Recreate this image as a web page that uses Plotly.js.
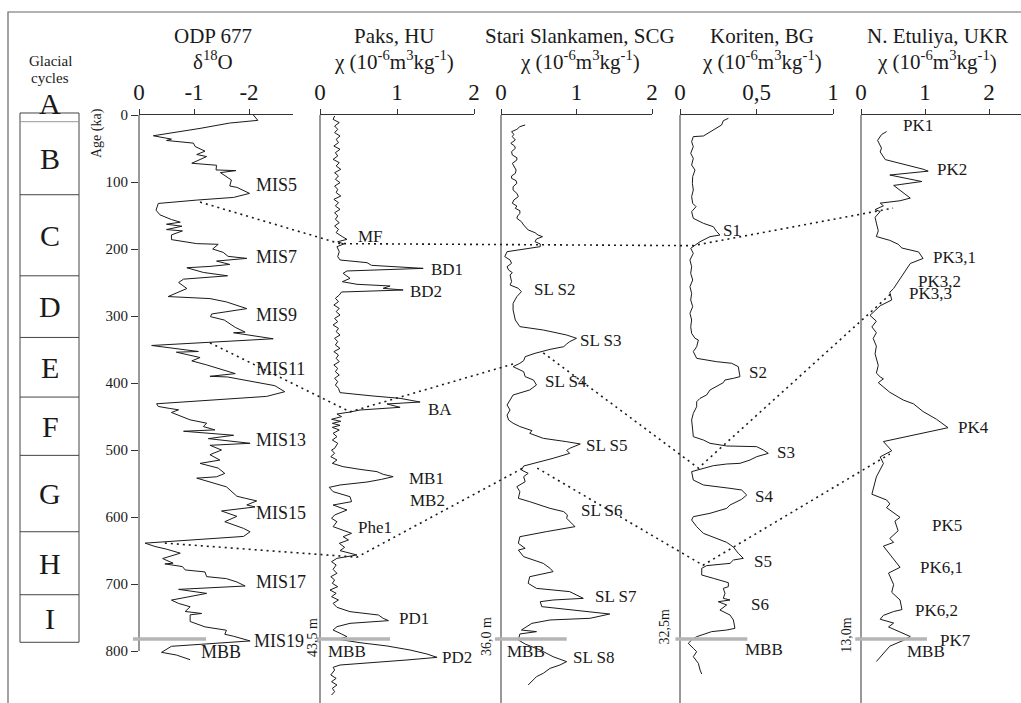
<!DOCTYPE html>
<html><head><meta charset="utf-8">
<script src="https://cdn.plot.ly/plotly-3.0.1.min.js"></script>
<style>html,body{margin:0;padding:0;background:#fff}#chart{width:1021px;height:703px}</style>
</head><body><div id="chart"></div>
<script>
// ---------------- DATA ----------------
// ODP 677 delta18O (per mil) vs age (ka)
const odpAge = [0,8,12,20,31,36,38,42,47,54,59,62,72,75,82,83,86,92,97,106,108,117,123,127,132,142,149,156,160,163,166,171,173,179,186,192,193,200,205,211,214,218,223,226,228,235,240,245,250,259,271,274,279,289,297,301,306,317,324,325,334,344,353,354,362,367,373,386,390,391,400,404,413,420,431,435,438,440,444,455,460,465,470,472,478,483,490,493,500,507,515,520,527,535,540,542,555,569,572,576,582,585,591,599,607,617,622,629,639,644,648,654,662,669,670,674,679,682,689,692,697,703,708,714,724,729,734,741,744,746,756,764,769,775,778,785,793,802,806,813];
const odpD18O = [-2.08,-2.16,-1.65,-1.11,-0.26,-0.59,-0.50,-0.99,-1.02,-1.20,-1.05,-1.23,-0.96,-1.41,-1.40,-1.76,-1.48,-1.58,-1.68,-1.65,-1.78,-2.01,-1.72,-1.05,-0.35,-0.31,-0.38,-0.59,-0.75,-0.50,-0.78,-0.50,-0.79,-0.59,-0.59,-1.05,-1.44,-1.34,-1.53,-1.62,-1.96,-1.41,-1.65,-1.29,-0.87,-1.17,-1.61,-0.81,-0.72,-0.87,-0.53,-1.29,-1.59,-1.96,-1.32,-1.30,-1.55,-1.75,-1.93,-1.72,-2.44,-0.23,-1.08,-0.68,-1.11,-0.96,-1.23,-1.75,-1.29,-1.61,-2.26,-2.47,-2.65,-2.32,-0.32,-0.35,-0.56,-0.72,-0.59,-0.93,-1.23,-1.17,-1.38,-0.81,-1.72,-1.26,-2.02,-1.29,-1.50,-1.29,-1.47,-1.11,-1.44,-1.56,-1.41,-1.05,-1.59,-1.78,-1.93,-2.14,-1.96,-2.11,-1.50,-1.78,-1.56,-1.90,-2.02,-1.90,-0.11,-0.29,-0.50,-0.75,-0.43,-0.62,-0.47,-0.79,-0.84,-1.20,-1.23,-1.59,-1.78,-1.93,-0.72,-1.23,-0.59,-0.72,-0.93,-0.84,-1.14,-0.93,-0.93,-1.20,-1.59,-1.56,-1.72,-2.02,-0.59,-0.41,-0.68,-0.93];

// Paks, HU  chi (1e-6 m3/kg)
const paksAge = [1.5,6.5,11.4,16.4,21.4,26.4,31.3,36.3,41.3,46.3,51.2,56.2,61.2,66.2,71.1,76.1,81.1,86.1,91.0,96.0,101.0,106.0,111.0,115.9,120.9,125.9,130.8,135.8,140.8,145.8,150.7,155.7,160.7,165.7,170.6,175.6,181.6,185.6,189.1,192.5,196.5,204.0,211.4,216.4,220.4,224.4,228.9,232.8,236.3,243.8,248.8,252.7,255.2,258.7,261.2,264.2,268.7,273.6,278.6,283.6,288.6,293.5,298.5,303.5,308.5,313.4,318.4,323.4,328.4,333.3,338.3,343.3,348.3,353.2,358.2,363.2,368.2,373.1,378.1,383.1,388.1,393.0,398.0,403.0,408.0,414.4,419.4,422.9,428.4,431.3,436.3,440.3,443.3,446.3,450.2,454.2,457.2,460.2,463.2,466.2,470.1,475.1,480.1,485.1,490.0,497.5,500.0,505.0,510.0,514.9,519.9,524.9,528.9,532.3,536.3,539.8,543.8,547.8,552.2,555.7,562.2,569.7,577.1,582.1,589.6,597.0,602.0,607.0,614.4,619.4,624.4,629.4,634.3,639.3,645.3,650.2,656.7,661.7,666.7,671.6,678.1,684.1,689.1,694.0,699.0,704.0,709.0,713.9,718.9,723.9,728.9,734.8,741.3,746.3,751.2,754.7,758.7,763.7,768.7,774.6,778.6,782.6,787.6,792.5,798.5,804.5,809.5,813.4,817.4,820.9,824.4,828.4,835.8,840.8,845.8,850.7,855.7,860.7,865.7];
const paksChi = [0.19,0.17,0.25,0.19,0.23,0.19,0.26,0.21,0.24,0.18,0.26,0.20,0.23,0.17,0.25,0.21,0.27,0.19,0.24,0.20,0.26,0.19,0.23,0.21,0.27,0.18,0.24,0.20,0.26,0.19,0.23,0.20,0.25,0.19,0.24,0.21,0.29,0.35,0.23,0.31,0.22,0.25,0.23,0.26,0.61,0.67,1.34,0.35,0.30,0.39,0.29,0.48,0.91,0.82,1.08,0.28,0.25,0.20,0.24,0.18,0.25,0.21,0.26,0.19,0.23,0.17,0.24,0.21,0.26,0.19,0.23,0.20,0.26,0.18,0.24,0.21,0.25,0.18,0.23,0.20,0.25,0.19,0.23,0.20,0.24,0.26,0.69,1.04,1.30,0.87,1.04,0.52,0.39,0.22,0.28,0.15,0.27,0.16,0.26,0.16,0.25,0.17,0.22,0.16,0.23,0.19,0.15,0.19,0.14,0.22,0.16,0.30,0.52,0.74,0.82,0.95,0.80,0.61,0.26,0.12,0.17,0.39,0.41,0.17,0.35,0.19,0.15,0.22,0.17,0.28,0.41,0.30,0.37,0.25,0.32,0.26,0.48,0.22,0.15,0.21,0.17,0.22,0.14,0.19,0.16,0.23,0.13,0.21,0.15,0.24,0.17,0.22,0.39,0.76,0.82,0.89,0.39,0.22,0.17,0.28,0.35,0.24,0.52,0.87,1.17,1.39,1.52,1.13,0.61,0.26,0.17,0.19,0.14,0.21,0.15,0.22,0.16,0.19,0.15];

// Stari Slankamen, SCG
const stariAge = [14.9,17.4,21.4,24.9,28.9,32.3,37.3,42.3,46.3,49.8,54.7,59.7,63.7,67.2,72.1,77.1,82.1,87.1,91.0,94.5,98.0,102.0,107.0,111.9,116.9,121.9,126.9,131.8,135.8,139.3,142.8,146.8,150.7,154.2,159.2,164.2,167.7,171.6,175.6,179.1,181.6,185.1,189.1,192.5,196.5,200.5,204.0,211.4,216.4,221.4,226.4,231.3,235.3,238.8,243.8,248.8,253.7,258.7,263.7,271.1,281.1,291.0,306.0,315.9,320.9,328.4,333.3,338.3,341.8,345.8,349.8,355.7,360.7,366.7,370.6,375.6,383.1,390.5,395.5,403.0,410.4,415.4,417.9,425.4,432.8,440.3,447.8,455.2,460.0,465.0,467.7,471.1,475.1,482.6,487.6,491.0,497.5,500.5,505.0,512.4,523.9,529.9,534.8,539.8,547.3,554.7,562.2,572.1,577.1,587.1,592.0,597.0,602.0,607.0,614.4,621.9,629.4,639.3,646.8,649.3,659.2,669.2,676.6,681.6,685.1,689.1,699.0,706.5,711.4,721.4,723.9,726.4,733.8,741.3,744.8,751.2,753.7,758.7,768.7,771.1,774.6,783.6,789.6,798.5,808.5,815.9,820.9,825.9,833.3,838.3,845.8,850.7];
const stariChi = [0.32,0.25,0.21,0.14,0.17,0.15,0.19,0.13,0.18,0.19,0.14,0.15,0.21,0.21,0.15,0.17,0.20,0.19,0.14,0.14,0.20,0.21,0.16,0.16,0.21,0.23,0.17,0.15,0.21,0.19,0.25,0.25,0.22,0.21,0.27,0.30,0.33,0.36,0.45,0.49,0.55,0.47,0.45,0.52,0.52,0.25,0.08,0.05,0.12,0.14,0.08,0.10,0.15,0.12,0.13,0.14,0.12,0.23,0.27,0.21,0.16,0.16,0.19,0.25,0.56,0.87,1.00,0.91,0.87,0.83,0.65,0.45,0.32,0.30,0.25,0.16,0.30,0.32,0.43,0.47,0.38,0.25,0.16,0.12,0.08,0.12,0.08,0.10,0.16,0.25,0.32,0.41,0.38,0.56,0.87,1.05,0.91,0.87,0.91,0.69,0.30,0.27,0.36,0.30,0.32,0.21,0.25,0.23,0.38,0.65,0.83,0.88,0.87,0.91,0.98,0.60,0.25,0.23,0.32,0.23,0.30,0.56,0.65,0.69,0.52,0.38,0.36,0.47,0.91,1.09,0.69,0.52,0.54,1.13,1.44,1.18,0.65,0.41,0.27,0.47,0.25,0.23,0.32,0.52,0.69,0.87,0.78,0.65,0.56,0.47,0.41,0.36];

// Koriten, BG
const koritenAge = [5.0,8.5,14.9,22.4,27.4,31.3,32.3,39.8,47.3,57.2,64.7,74.6,82.1,92.0,102.0,111.9,121.9,131.8,136.8,144.3,154.2,161.7,166.7,174.1,179.1,181.6,189.1,194.0,199.0,206.5,216.4,226.4,236.3,246.3,256.2,266.2,276.1,286.1,296.0,306.0,315.9,325.9,333.3,335.8,345.8,353.2,363.2,368.2,370.6,375.6,390.5,393.0,395.5,399.5,402.0,405.5,410.4,417.9,422.9,427.9,435.3,445.3,455.2,470.1,480.1,485.1,490.0,494.0,495.0,500.0,505.0,510.0,514.9,519.9,520.9,523.4,528.4,532.3,544.8,552.2,557.2,559.7,567.2,573.6,582.1,587.1,594.5,599.5,604.5,614.4,624.4,637.8,644.8,654.2,661.7,664.2,669.2,672.6,676.6,686.6,691.5,698.0,704.0,706.5,714.0,721.4,723.9,726.4,731.3,738.8,746.3,753.7,766.2,768.7,771.1,773.6,778.6,783.6,788.6,796.0,801.0,808.5,818.4,828.4,834.3];
const koritenChi = [0.316,0.283,0.272,0.218,0.174,0.153,0.087,0.076,0.087,0.070,0.087,0.076,0.098,0.083,0.081,0.087,0.076,0.083,0.105,0.076,0.087,0.153,0.218,0.240,0.261,0.196,0.131,0.098,0.070,0.087,0.065,0.076,0.070,0.083,0.065,0.076,0.070,0.083,0.065,0.076,0.070,0.076,0.098,0.120,0.109,0.087,0.109,0.240,0.338,0.381,0.392,0.349,0.294,0.283,0.261,0.240,0.196,0.174,0.131,0.109,0.109,0.087,0.076,0.083,0.087,0.153,0.196,0.305,0.501,0.545,0.577,0.501,0.458,0.392,0.305,0.218,0.131,0.076,0.087,0.153,0.327,0.403,0.436,0.403,0.327,0.305,0.196,0.087,0.076,0.109,0.153,0.305,0.349,0.381,0.414,0.349,0.327,0.174,0.142,0.142,0.218,0.316,0.316,0.283,0.294,0.283,0.327,0.250,0.305,0.261,0.327,0.349,0.359,0.305,0.207,0.174,0.109,0.076,0.054,0.087,0.109,0.087,0.120,0.131,0.142];

// N. Etuliya, UKR
const etuliyaAge = [24.7,29.3,37.9,49.4,55.1,66.6,80.9,83.8,89.6,99.3,105.1,124.0,128.0,131.5,135.5,141.2,144.1,152.7,161.3,172.8,181.4,187.1,192.9,198.6,204.4,214.1,221.6,230.2,244.5,258.9,264.6,276.1,284.7,299.1,307.7,316.3,324.9,333.5,345.0,356.5,373.7,385.2,390.9,393.8,399.5,413.9,425.4,431.1,442.6,454.1,466.7,487.4,501.1,510.3,520.1,540.2,566.0,574.6,580.4,586.1,600.5,606.2,620.6,632.0,637.8,643.5,675.1,683.7,700.9,712.4,723.9,738.2,741.1,746.8,752.6,758.3,764.1,778.4,784.2,792.8,815.7];
const etuliyaChi = [0.40,0.32,0.26,0.32,0.30,0.38,0.97,1.05,0.45,0.95,0.51,0.77,0.61,0.30,0.35,0.22,0.30,0.22,0.24,0.27,0.24,0.45,0.58,0.64,0.90,0.97,0.77,0.71,0.61,0.51,0.45,0.48,0.30,0.14,0.24,0.17,0.24,0.19,0.24,0.22,0.27,0.24,0.30,0.35,0.27,0.45,0.66,0.82,0.97,1.18,1.36,0.35,0.48,0.30,0.35,0.24,0.17,0.40,0.45,0.40,0.61,0.53,0.58,0.45,0.51,0.35,0.61,0.43,0.51,0.48,0.61,0.64,0.51,0.35,0.30,0.51,0.43,0.77,0.66,0.45,0.24];

// Panel titles and tick labels
const panelTitles = ['ODP 677','Paks, HU','Stari Slankamen, SCG','Koriten, BG','N. Etuliya, UKR'];
const panelUnits = ['δ<sup>18</sup>O','χ (10<sup>-6</sup>m<sup>3</sup>kg<sup>-1</sup>)','χ (10<sup>-6</sup>m<sup>3</sup>kg<sup>-1</sup>)','χ (10<sup>-6</sup>m<sup>3</sup>kg<sup>-1</sup>)','χ (10<sup>-6</sup>m<sup>3</sup>kg<sup>-1</sup>)'];
const tickVals = [[0,-1,-2],[0,1,2],[0,1,2],[0,0.5,1],[0,1,2]];
const tickText = [['0','-1','-2'],['0','1','2'],['0','1','2'],['0','0,5','1'],['0','1','2']];
const ageTicks = [0,100,200,300,400,500,600,700,800];

// Glacial cycles (ka boundaries) and letters
const cycleLetters = ['B','C','D','E','F','G','H','I'];
const cycleBounds = [10,119,240,332,421,508,622,716,787];

// Curve labels: [panel, text, value, age]
const curveLabels = [
 [0,'MIS5',-2.09,104],[0,'MIS7',-2.09,212],[0,'MIS9',-2.09,298],[0,'MIS11',-2.09,379],[0,'MIS13',-2.09,485],
 [0,'MIS15',-2.09,594],[0,'MIS17',-2.09,697],[0,'MIS19',-2.05,785],[0,'MBB',-1.09,801],
 [1,'MF',0.47,182],[1,'BD1',1.42,230],[1,'BD2',1.14,263],[1,'BA',1.38,439],[1,'MB1',1.13,542],[1,'MB2',1.14,576],
 [1,'Phe1',0.47,615],[1,'PD1',1.00,751],[1,'MBB',0.08,800],[1,'PD2',1.56,810],
 [2,'SL S2',0.41,260],[2,'SL S3',1.02,336],[2,'SL S4',0.56,398],[2,'SL S5',1.10,494],[2,'SL S6',1.03,591],
 [2,'SL S7',1.22,719],[2,'MBB',0.05,800],[2,'SL S8',0.93,809],
 [3,'S1',0.27,173],[3,'S2',0.44,384],[3,'S3',0.62,504],[3,'S4',0.48,570],[3,'S5',0.47,667],[3,'S6',0.45,731],[3,'MBB',0.41,798],
 [4,'PK1',0.63,16],[4,'PK2',1.16,82],[4,'PK3,1',1.09,213],[4,'PK3,2',0.86,248],[4,'PK3,3',0.72,266],[4,'PK4',1.48,466],
 [4,'PK5',1.08,612],[4,'PK6,1',0.89,675],[4,'PK6,2',0.81,739],[4,'PK7',1.20,784],[4,'MBB',0.69,801]
];

// Correlation (dotted) lines: [panel, value, age]
const corrLines = [
 [[0,-1.11,130],[1,0.26,192],[3,0.085,195],[4,0.5,139]],
 [[0,-1.29,340],[1,0.39,443],[2,0.21,370]],
 [[2,0.56,355],[3,0.12,527],[4,0.5,264]],
 [[0,-0.47,639],[1,0.48,660],[2,0.29,527]],
 [[2,0.48,527],[3,0.15,672],[4,0.45,506]]
];

// Matuyama-Brunhes boundary lines: age and extent per panel [v0,v1]
const mbbAge = 782;
const mbbExtent = [[0.11,-1.22],[-0.04,0.91],[-0.08,0.87],[-0.03,0.44],[-0.09,1.03]];
// Depth labels at MBB: [panel, text, value, age]
const depthLabels = [[1,'43,5 m',-0.10,780],[2,'36,0 m',-0.19,778],[3,'32,5m',-0.10,764],[4,'13,0m',-0.22,776]];

// ---------------- LAYOUT GEOMETRY ----------------
const W = 1021, H = 703, TOP = 115, PX_PER_KA = 0.67;
const AGE_MAX = (H - TOP) / PX_PER_KA;
const yTop = 1 - TOP / H;
const panelPx = [[139,293],[320,474],[501,652],[680,833],[861,1021]];
const panelRange = [[0,-2.8],[0,2],[0,2],[0,1],[0,2.5]];
const titleCx = [213, 394, 580, 762, 937];
const axNames = ['x','x2','x3','x4','x5'];
const FONT = 'Liberation Serif';
const INK = '#1a1a1a';

function px(i, v) {
  const p = panelPx[i], r = panelRange[i];
  return (p[0] + (v - r[0]) / (r[1] - r[0]) * (p[1] - p[0])) / W;
}
function py(age) { return yTop * (1 - age / AGE_MAX); }

const series = [[odpD18O,odpAge],[paksChi,paksAge],[stariChi,stariAge],[koritenChi,koritenAge],[etuliyaChi,etuliyaAge]];
const traces = series.map((s, i) => ({
  x: s[0], y: s[1], type: 'scatter', mode: 'lines',
  xaxis: axNames[i], yaxis: 'y',
  line: {color: INK, width: 1}, hoverinfo: 'skip'
}));

const layout = {
  width: W, height: H, margin: {l:0, r:0, t:0, b:0},
  paper_bgcolor: '#fff', plot_bgcolor: 'rgba(0,0,0,0)', showlegend: false,
  font: {family: FONT, color: INK},
  yaxis: {
    domain: [0, yTop], range: [AGE_MAX, 0], anchor: 'x',
    tickvals: ageTicks, ticks: 'outside', ticklen: 7, tickcolor: '#333',
    showline: false, showgrid: false, zeroline: false,
    tickfont: {family: FONT, size: 15, color: INK}
  },
  shapes: [], annotations: []
};
axNames.forEach((n, i) => {
  const key = i === 0 ? 'xaxis' : 'xaxis' + (i + 1);
  layout[key] = {
    domain: [panelPx[i][0] / W, panelPx[i][1] / W], range: panelRange[i],
    anchor: 'y', side: 'top', showline: true, linecolor: '#333', linewidth: 1,
    tickvals: tickVals[i], ticktext: tickText[i], ticks: 'outside', ticklen: 5, tickcolor: '#333',
    showgrid: false, zeroline: false, tickfont: {family: FONT, size: 23, color: INK}
  };
  layout.shapes.push({type:'line', xref:'paper', yref:'paper',
    x0: px(i, panelRange[i][0]), x1: px(i, panelRange[i][0]),
    y0: yTop, y1: i === 0 ? py(800) : 0, line:{color:'#333', width:1}});
  const tcx = titleCx[i] / W;
  layout.annotations.push({xref:'paper', yref:'paper', x: tcx, y: 1 - 36 / H, text: panelTitles[i],
    showarrow:false, xanchor:'center', yanchor:'middle', font:{family:FONT, size:21, color:INK}});
  layout.annotations.push({xref:'paper', yref:'paper', x: tcx, y: 1 - 61 / H, text: panelUnits[i],
    showarrow:false, xanchor:'center', yanchor:'middle', font:{family:FONT, size:21, color:INK}});
});

// Frame
layout.shapes.push({type:'rect', xref:'paper', yref:'paper', x0: 8 / W, x1: 1.02, y0: -0.02, y1: 1 - 12 / H,
  line:{color:'#666', width:1.2}, fillcolor:'rgba(0,0,0,0)'});

// Glacial cycle box
const bx0 = 20 / W, bx1 = 79 / W;
layout.shapes.push({type:'rect', xref:'paper', yref:'paper', x0: bx0, x1: bx1, y0: py(cycleBounds[cycleBounds.length-1]), y1: py(-3),
  line:{color:'#444', width:1}, fillcolor:'rgba(0,0,0,0)'});
cycleBounds.slice(0, -1).forEach((b, k) => {
  layout.shapes.push({type:'line', xref:'paper', yref:'paper', x0: bx0, x1: bx1, y0: py(b), y1: py(b),
    line:{color: k === 0 ? '#999' : '#444', width:1}});
});
cycleLetters.forEach((L, k) => {
  layout.annotations.push({xref:'paper', yref:'paper', x: 50 / W, y: py((cycleBounds[k] + cycleBounds[k+1]) / 2),
    text: L, showarrow:false, xanchor:'center', yanchor:'middle', font:{family:FONT, size:30, color:INK}});
});
layout.annotations.push({xref:'paper', yref:'paper', x: 50 / W, y: 1 - 103 / H, text:'A', showarrow:false,
  xanchor:'center', yanchor:'middle', font:{family:FONT, size:30, color:INK}});
layout.annotations.push({xref:'paper', yref:'paper', x: 50 / W, y: 1 - 61 / H, text:'Glacial', showarrow:false,
  xanchor:'center', yanchor:'middle', font:{family:FONT, size:15, color:INK}});
layout.annotations.push({xref:'paper', yref:'paper', x: 50 / W, y: 1 - 78 / H, text:'cycles', showarrow:false,
  xanchor:'center', yanchor:'middle', font:{family:FONT, size:15, color:INK}});
layout.annotations.push({xref:'paper', yref:'paper', x: 97 / W, y: 1 - 133 / H, text:'Age (ka)', textangle:-90,
  showarrow:false, xanchor:'center', yanchor:'middle', font:{family:FONT, size:14, color:INK}});

// MBB grey lines
mbbExtent.forEach((e, i) => {
  layout.shapes.push({type:'line', xref:'paper', yref:'paper', x0: px(i, e[0]), x1: px(i, e[1]),
    y0: py(mbbAge), y1: py(mbbAge), line:{color:'#b5b5b5', width:3.5}});
});

// Correlation dotted lines
corrLines.forEach(pts => {
  const path = pts.map((p, k) => (k ? 'L' : 'M') + px(p[0], p[1]).toFixed(5) + ',' + py(p[2]).toFixed(5)).join(' ');
  layout.shapes.push({type:'path', xref:'paper', yref:'paper', path: path,
    line:{color: INK, width:1.6, dash:'2px,4px'}});
});

// Curve labels
curveLabels.forEach(l => {
  layout.annotations.push({xref:'paper', yref:'paper', x: px(l[0], l[2]), y: py(l[3]), text: l[1],
    showarrow:false, xanchor:'left', yanchor:'middle', font:{family:FONT, size: l[0] === 0 ? 18 : 17, color:INK}});
});
// Depth labels
depthLabels.forEach(l => {
  layout.annotations.push({xref:'paper', yref:'paper', x: px(l[0], l[2]), y: py(l[3]), text: l[1], textangle:-90,
    showarrow:false, xanchor:'center', yanchor:'middle', font:{family:FONT, size:14, color:INK}});
});

Plotly.newPlot('chart', traces, layout, {displayModeBar:false, staticPlot:true});
</script></body></html>
